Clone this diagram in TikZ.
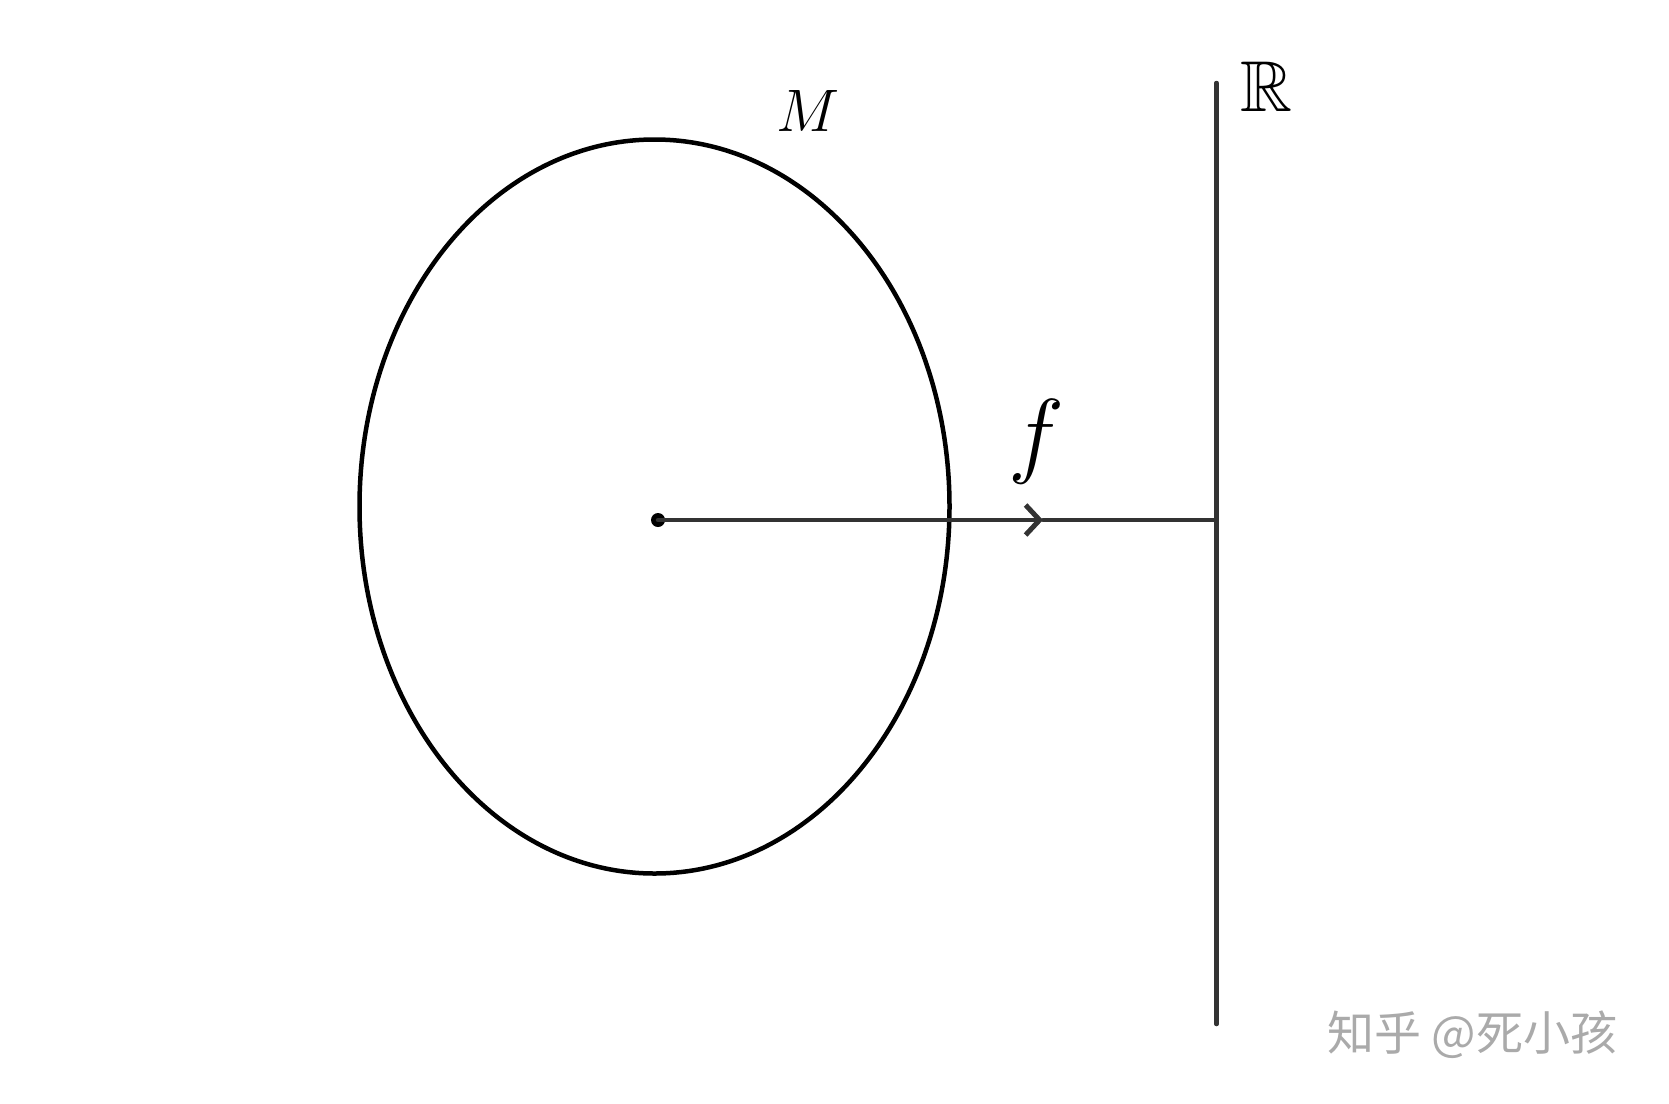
\documentclass[tikz,border=0pt]{standalone}
\usepackage{fix-cm}
\usepackage{amsmath}
\usepackage{amssymb}
\usepackage{xcolor}
\usepackage{fontspec}
\newfontfamily\cjkfont{Noto Sans CJK SC}
\usetikzlibrary{arrows.meta}

\definecolor{linegray}{RGB}{51,51,51}
\definecolor{markgray}{RGB}{170,170,170}

\begin{document}
\begin{tikzpicture}[x=1pt,y=1pt,yscale=-1,xscale=1,
    curve/.style={draw=black,line width=4.5pt},
    axis/.style={draw=linegray,line width=4.5pt,line cap=round},
    label/.style={inner sep=0pt,font=\fontsize{60}{60}\selectfont}]
    \useasboundingbox (0,0) rectangle (1669,1103);

    %Shape: Ellipse [id:manifold]
    \draw [curve] (654.5,506.5) ellipse [x radius=295, y radius=367];
    %Dot [id:point]
    \node (p) [circle,fill=black,inner sep=0pt,minimum size=14pt] at (658,520) {};
    %Line [id:real]
    \coordinate (rtop) at (1216.5,83);
    \coordinate (rbot) at (1216.5,1024);
    \coordinate (rhit) at (1216.5,520);
    \coordinate (tip) at (1043,520);
    \draw [axis] (rtop) -- (rbot);
    %Arrow [id:map]
    \draw [axis,-{Straight Barb[length=14pt,width=30pt,line width=5pt]}] (p.center) -- (tip);
    \draw [axis] (tip) -- (rhit);

    % Text Node
    \node (m) [label] at (808,111) {$M$};
    % Text Node
    \node (r) [label,font=\fontsize{72}{72}\selectfont] at (1266,87) {$\mathbb{R}$};
    % Text Node
    \node (f) [label,font=\fontsize{95}{95}\selectfont] at (1036,442) {$f$};
    % Text Node
    \node (wm) [inner sep=0pt,text=markgray,font=\cjkfont\fontsize{47}{47}\selectfont] at (1472,1035) {知乎 @死小孩};
\end{tikzpicture}
\end{document}
